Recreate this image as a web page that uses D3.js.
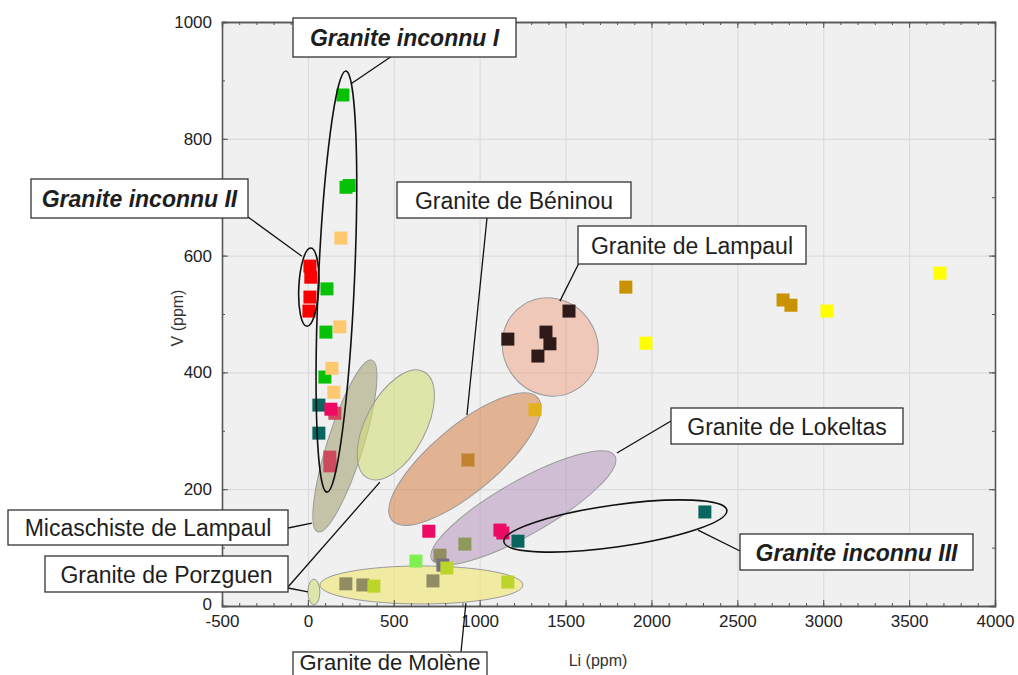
<!DOCTYPE html>
<html>
<head>
<meta charset="utf-8">
<script src="https://cdn.jsdelivr.net/npm/d3@7"></script>
<style>
  html, body { margin: 0; padding: 0; background: #ffffff; }
  svg { display: block; font-family: "Liberation Sans", Arial, sans-serif; }
</style>
</head>
<body>
<svg id="chart" width="1018" height="675"></svg>
<script>
// ---- Data: Li (ppm) vs V (ppm), one [Li, V] pair per sample ----
const greenPts      = [[204, 875], [222, 717], [240, 720], [111, 543], [105, 469], [99, 392]];
const lightOrange   = [[192, 630], [186, 478], [140, 407], [151, 366]];
const redPts        = [[12, 582], [17, 563], [12, 529], [6, 505]];
const tealPts       = [[64, 344], [64, 296], [1223, 111], [2311, 161]];
const pinkPts       = [[134, 337], [704, 128], [1118, 130], [1135, 125]];
const rosePts       = [[157, 330], [128, 255], [128, 240]];
const darkBrownPts  = [[1520, 505], [1164, 457], [1386, 469], [1409, 449], [1339, 428]];
const goldPts       = [[1851, 546], [2766, 524], [2812, 515]];
const paleGoldPts   = [[1322, 336]];
const ochrePts      = [[932, 250]];
const yellowPts     = [[1968, 450], [3022, 505], [3680, 570]];
const olivePts      = [[221, 38], [320, 36], [728, 43], [769, 87]];
const oliveGreenPts = [[914, 106]];
const greyVioletPts = [[786, 70]];
const limePts       = [[384, 34], [1164, 41], [809, 65]];
const brightLimePts = [[629, 77]];

// Axis ticks
const xTicks = [-500, 0, 500, 1000, 1500, 2000, 2500, 3000, 3500, 4000];
const yTicks = [0, 200, 400, 600, 800, 1000];

// Field envelopes: major-axis end points in data units
const envNames = ["Micaschiste de Lampaul", "Granite de Porzguen", "Granite de Béninou",
                  "Granite de Lokeltas", "Granite de Lampaul", "Granite de Molène", "Porzguen (petit)"];
const envEnds  = [
  [[58, 127], [373, 421]],
  [[349, 219], [675, 401]],
  [[489, 147], [1339, 356]],
  [[722, 79], [1787, 257]],
  [[1246, 514], [1576, 373]],
  [[70, 36], [1252, 36]],
  [[35, 46], [35, 2]]
];
// Unknown granites: outlined envelopes
const unkNames = ["Granite inconnu I", "Granite inconnu II", "Granite inconnu III"];
const unkEnds  = [
  [[111, 195], [221, 916]],
  [[-6, 479], [17, 613]],
  [[1141, 110], [2439, 164]]
];

// Leader targets (data units) for each label
const labelTexts   = ["Granite inconnu I", "Granite inconnu II", "Granite de Béninou", "Granite de Lampaul",
                      "Granite de Lokeltas", "Granite inconnu III", "Micaschiste de Lampaul",
                      "Granite de Porzguen", "Granite de Molène"];
const labelTargets = [
  [[256, 895]], [[-35, 599]], [[926, 327]], [[1467, 522]], [[1799, 262]],
  [[2271, 130]], [[23, 142]], [[419, 212], [0, 24]], [[920, 5]]
];

// ---- Styling / layout ----
const plot = { left: 222, right: 995, top: 22, bottom: 606 };

const seriesList = [
  { pts: greenPts, color: "#07c107" },
  { pts: lightOrange, color: "#fec86e" },
  { pts: redPts, color: "#fa0000" },
  { pts: tealPts, color: "#08665f" },
  { pts: rosePts, color: "#cc4a5c" },
  { pts: pinkPts, color: "#ec0a64" },
  { pts: darkBrownPts, color: "#2e1a18" },
  { pts: goldPts, color: "#c99200" },
  { pts: paleGoldPts, color: "#e3b11c" },
  { pts: ochrePts, color: "#c3822e" },
  { pts: yellowPts, color: "#ffff00" },
  { pts: olivePts, color: "#928c62" },
  { pts: oliveGreenPts, color: "#8e9a5a" },
  { pts: greyVioletPts, color: "#76707e" },
  { pts: limePts, color: "#bcd52a" },
  { pts: brightLimePts, color: "#80f050" }
];

const envStyle = [
  { fill: "rgba(160,158,110,0.55)", hw: 18 },
  { fill: "rgba(212,222,120,0.6)", hw: 30 },
  { fill: "rgba(215,130,70,0.55)", hw: 33 },
  { fill: "rgba(180,150,190,0.55)", hw: 27 },
  { fill: "rgba(240,160,130,0.5)", hw: 47 },
  { fill: "rgba(240,230,110,0.6)", hw: 19 },
  { fill: "rgba(212,222,120,0.6)", hw: 6 }
];
const unkHw = [18, 10, 21];

// label boxes: [x, y, w, h, bold italic]
const labelBoxes = [
  [293, 18, 223, 39, true],
  [31, 179, 217, 39, true],
  [397, 182, 234, 36, false],
  [578, 226, 228, 38, false],
  [671, 408, 232, 36, false],
  [740, 534, 233, 36, true],
  [8, 510, 280, 35, false],
  [45, 556, 243, 36, false],
  [293, 652, 194, 40, false]
];
// leader start points (px)
const labelAnchors = [
  [[392, 56]], [[248, 217]], [[487, 218]], [[579, 263]], [[671, 421]],
  [[740, 551]], [[288, 528]], [[288, 587], [288, 588]], [[461, 652]]
];

const svg = d3.select("#chart");
const x = d3.scaleLinear().domain([-500, 4000]).range([plot.left, plot.right]);
const y = d3.scaleLinear().domain([0, 1000]).range([plot.bottom, plot.top]);
const pw = plot.right - plot.left, ph = plot.bottom - plot.top;

// Plot background
svg.append("rect").attr("x", plot.left).attr("y", plot.top)
  .attr("width", pw).attr("height", ph).attr("fill", "#f0f0f0");

// Grid
svg.append("g").attr("transform", `translate(0,${plot.bottom})`)
  .call(d3.axisBottom(x).tickValues(xTicks).tickSize(-ph).tickFormat(""))
  .call(g => { g.select(".domain").remove(); g.selectAll("line").attr("stroke", "#dcdcdc").attr("stroke-width", 1.2); });
svg.append("g").attr("transform", `translate(${plot.left},0)`)
  .call(d3.axisLeft(y).tickValues(yTicks).tickSize(-pw).tickFormat(""))
  .call(g => { g.select(".domain").remove(); g.selectAll("line").attr("stroke", "#dcdcdc").attr("stroke-width", 1.2); });

// Ellipse helper from two major-axis end points (data) and a half width (px)
function ellipse(g, ends, hw) {
  const [a, b] = ends;
  const x1 = x(a[0]), y1 = y(a[1]), x2 = x(b[0]), y2 = y(b[1]);
  const cx = (x1 + x2) / 2, cy = (y1 + y2) / 2;
  const rx = Math.hypot(x2 - x1, y2 - y1) / 2;
  const ang = Math.atan2(y2 - y1, x2 - x1) * 180 / Math.PI;
  return g.append("ellipse").attr("cx", 0).attr("cy", 0).attr("rx", rx).attr("ry", hw)
    .attr("transform", `translate(${cx},${cy}) rotate(${ang})`);
}

const clipId = "plotclip";
svg.append("clipPath").attr("id", clipId).append("rect")
  .attr("x", plot.left).attr("y", plot.top).attr("width", pw).attr("height", ph);

const envG = svg.append("g").attr("clip-path", `url(#${clipId})`);
envEnds.forEach((ends, i) => {
  ellipse(envG, ends, envStyle[i].hw)
    .attr("fill", envStyle[i].fill).attr("stroke", "#9a9a9a").attr("stroke-width", 1);
});

// Sample markers
const markG = svg.append("g");
const s = 13;
seriesList.forEach(sr => {
  markG.selectAll(null).data(sr.pts).enter().append("rect")
    .attr("x", d => x(d[0]) - s / 2).attr("y", d => y(d[1]) - s / 2)
    .attr("width", s).attr("height", s).attr("fill", sr.color);
});

// Outlined envelopes for the unknown granites
unkEnds.forEach((ends, i) => {
  ellipse(svg, ends, unkHw[i]).attr("fill", "none").attr("stroke", "#111").attr("stroke-width", 1.6);
});

// Frame and ticks (inward, all four sides)
const minorX = d3.range(-500, 4001, 100);
const minorY = d3.range(0, 1001, 100);
function tickStyle(g) { g.select(".domain").attr("stroke", "#555").attr("stroke-width", 1.3); g.selectAll(".tick line").attr("stroke", "#555"); }
const plain = d => String(d);

svg.append("g").attr("transform", `translate(0,${plot.bottom})`)
  .call(d3.axisBottom(x).tickValues(minorX).tickSize(-3).tickFormat("")).call(tickStyle);
svg.append("g").attr("transform", `translate(0,${plot.top})`)
  .call(d3.axisTop(x).tickValues(minorX).tickSize(-3).tickFormat("")).call(tickStyle);
svg.append("g").attr("transform", `translate(${plot.left},0)`)
  .call(d3.axisLeft(y).tickValues(minorY).tickSize(-3).tickFormat("")).call(tickStyle);
svg.append("g").attr("transform", `translate(${plot.right},0)`)
  .call(d3.axisRight(y).tickValues(minorY).tickSize(-3).tickFormat("")).call(tickStyle);

const xAxis = svg.append("g").attr("transform", `translate(0,${plot.bottom})`)
  .call(d3.axisBottom(x).tickValues(xTicks).tickSize(-6).tickPadding(9).tickFormat(plain))
  .call(tickStyle);
const yAxis = svg.append("g").attr("transform", `translate(${plot.left},0)`)
  .call(d3.axisLeft(y).tickValues(yTicks).tickSize(-6).tickPadding(10).tickFormat(plain))
  .call(tickStyle);
svg.append("g").attr("transform", `translate(0,${plot.top})`)
  .call(d3.axisTop(x).tickValues(xTicks).tickSize(-6).tickFormat("")).call(tickStyle);
svg.append("g").attr("transform", `translate(${plot.right},0)`)
  .call(d3.axisRight(y).tickValues(yTicks).tickSize(-6).tickFormat("")).call(tickStyle);
[xAxis, yAxis].forEach(a => a.selectAll("text")
  .attr("font-family", "Liberation Sans, Arial, sans-serif").attr("font-size", 17).attr("fill", "#222"));
// nudge the y-axis "0" up a little so it clears the "-500" label
yAxis.selectAll(".tick").filter(d => d === 0).select("text").attr("dy", "0.2em");

// Axis titles
svg.append("text").attr("x", 598).attr("y", 666).attr("text-anchor", "middle")
  .attr("font-size", 16).attr("fill", "#333").text("Li (ppm)");
svg.append("text").attr("transform", "translate(183,318) rotate(-90)").attr("text-anchor", "middle")
  .attr("font-size", 16).attr("fill", "#333").text("V (ppm)");

// Leader lines
labelTargets.forEach((targets, i) => {
  targets.forEach((t, j) => {
    const a = labelAnchors[i][j];
    svg.append("line").attr("x1", a[0]).attr("y1", a[1]).attr("x2", x(t[0])).attr("y2", y(t[1]))
      .attr("stroke", "#111").attr("stroke-width", 1.3);
  });
});

// Label boxes
labelTexts.forEach((txt, i) => {
  const [bx, by, bw, bh, strong] = labelBoxes[i];
  const last = i === 8;
  svg.append("rect").attr("x", bx).attr("y", by).attr("width", bw).attr("height", bh)
    .attr("fill", "#ffffff").attr("stroke", "#333").attr("stroke-width", 1.3);
  svg.append("text").attr("x", bx + bw / 2).attr("y", by + (last ? 18 : bh / 2 + 8.5))
    .attr("text-anchor", "middle")
    .attr("font-size", last ? 22 : 23)
    .attr("font-weight", strong ? "bold" : "normal")
    .attr("font-style", strong ? "italic" : "normal")
    .attr("fill", "#1e1e1e").text(txt);
});
</script>
</body>
</html>
